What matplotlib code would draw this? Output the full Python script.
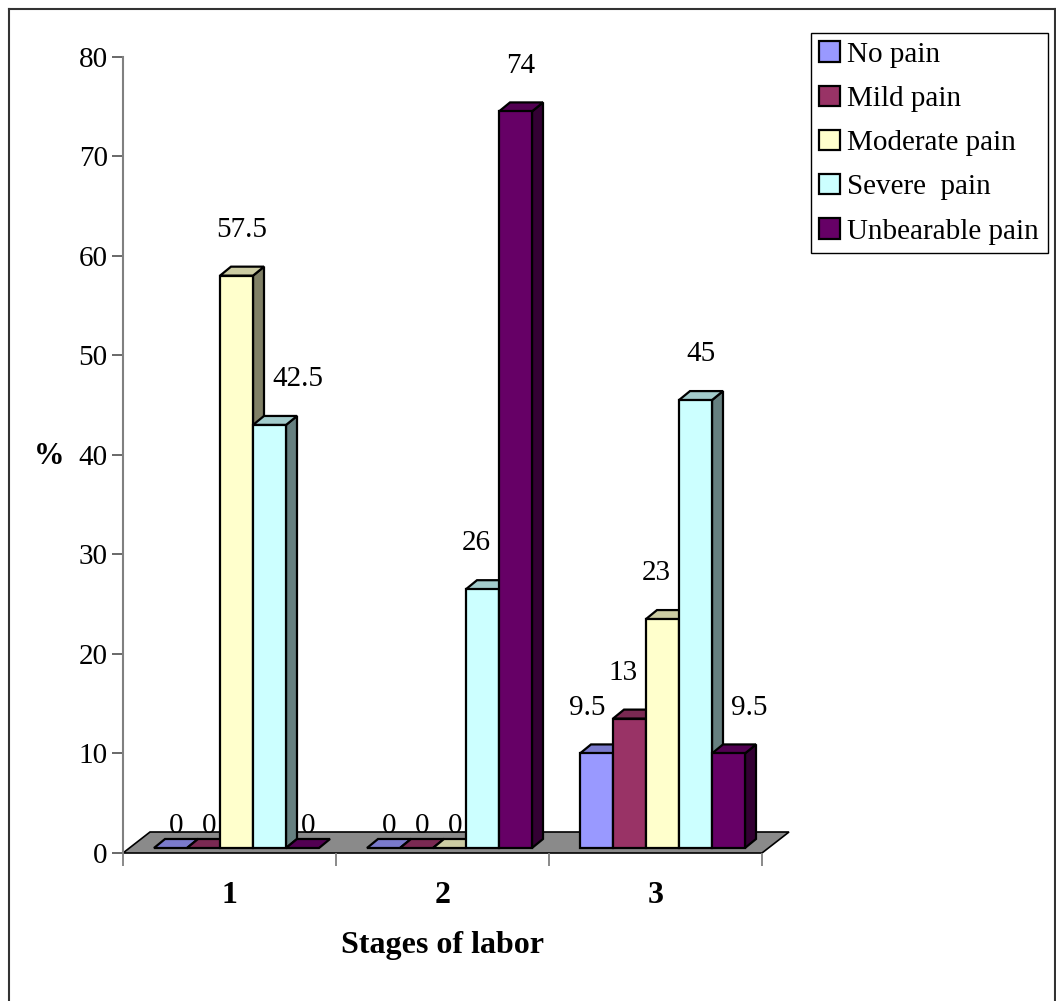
# -*- coding: utf-8 -*-

import matplotlib
matplotlib.use("Agg")
import matplotlib.pyplot as plt
from matplotlib.patches import Polygon, Rectangle, Patch
from matplotlib.lines import Line2D
from matplotlib.colors import to_rgb

plt.rcParams['font.family'] = ['Liberation Serif', 'DejaVu Serif']

stages = ['1', '2', '3']
series = ['No pain', 'Mild pain', 'Moderate pain', 'Severe  pain', 'Unbearable pain']
no_pain = [0, 0, 9.5]
mild_pain = [0, 0, 13]
moderate_pain = [57.5, 0, 23]
severe_pain = [42.5, 26, 45]
unbearable_pain = [0, 74, 9.5]
colors = ['#9999FF', '#993366', '#FFFFCC', '#CCFFFF', '#660066']

W, H = 1056, 1001
fig = plt.figure(figsize=(W / 100, H / 100), dpi=100)

# plot area in pixels: x axis 123..762, y axis 853 (0) .. 56.7 (80)
ax_l, ax_r, ax_b, ax_t = 123, 762, 853, 56.7
ax = fig.add_axes([ax_l / W, 1 - ax_b / H, (ax_r - ax_l) / W, (ax_b - ax_t) / H])
ax.set_xlim(-0.5, 2.5)
ax.set_ylim(0, 80)

# pixel -> data unit helpers for the fake 3d look
sx = 3.0 / (ax_r - ax_l)
sy = 80.0 / (ax_b - ax_t)
bar_w = 33 * sx
base_dx, base_dy = 7 * sx, 5 * sy      # bars sit a bit back on the floor
bar_dx, bar_dy = 11 * sx, 9 * sy       # bar depth
floor_dx, floor_dy = 27 * sx, 21 * sy  # floor depth


def shade(c, f):
    r, g, b = to_rgb(c)
    return (r * f, g * f, b * f)


# floor
floor = Polygon([(-0.5, 0), (2.5, 0), (2.5 + floor_dx, floor_dy), (-0.5 + floor_dx, floor_dy)],
                closed=True, facecolor='#8a8a8a', edgecolor='black', lw=1.2, clip_on=False, zorder=1)
ax.add_patch(floor)

values = [no_pain, mild_pain, moderate_pain, severe_pain, unbearable_pain]
n = len(values)
z = 2
bar_boxes = []
labels = []
for i in range(len(stages)):
    for j in range(n):
        v = values[j][i]
        c = colors[j]
        x0 = i - n * bar_w / 2 + j * bar_w + base_dx
        y0 = base_dy
        top = [(x0, y0 + v), (x0 + bar_w, y0 + v),
               (x0 + bar_w + bar_dx, y0 + v + bar_dy), (x0 + bar_dx, y0 + v + bar_dy)]
        if v > 0:
            side = [(x0 + bar_w, y0), (x0 + bar_w + bar_dx, y0 + bar_dy),
                    (x0 + bar_w + bar_dx, y0 + v + bar_dy), (x0 + bar_w, y0 + v)]
            ax.add_patch(Polygon(side, closed=True, facecolor=shade(c, 0.5), edgecolor='black',
                                 lw=1.6, joinstyle='miter', clip_on=False, zorder=z))
            ax.add_patch(Polygon(top, closed=True, facecolor=shade(c, 0.8), edgecolor='black',
                                 lw=1.6, joinstyle='miter', clip_on=False, zorder=z))
            ax.add_patch(Rectangle((x0, y0), bar_w, v, facecolor=c, edgecolor='black',
                                   lw=1.6, joinstyle='miter', clip_on=False, zorder=z))
            ly = y0 + v + 4.6
        else:
            ax.add_patch(Polygon(top, closed=True, facecolor=shade(c, 0.8), edgecolor='black',
                                 lw=1.6, joinstyle='miter', clip_on=False, zorder=z))
            ly = y0 + v + 2.2
        z += 1
        bar_boxes.append((x0, x0 + bar_w + bar_dx, y0 + v + bar_dy, v))
        t = ax.text(x0 + bar_w / 2 + bar_dx / 2, ly, '{:g}'.format(v), ha='center', va='center',
                    fontsize=21, zorder=50)
        labels.append(t)

# axes styling
for s in ['top', 'right', 'bottom']:
    ax.spines[s].set_visible(False)
ax.spines['left'].set_color('#808080')
ax.spines['left'].set_linewidth(1.5)
ax.set_yticks(range(0, 81, 10))
ax.tick_params(axis='y', direction='out', length=8, width=1.1, color='#404040',
               labelsize=21, pad=3)
ax.set_xticks([0, 1, 2], stages)
ax.tick_params(axis='x', which='major', length=0, pad=20, labelsize=23)
for t in ax.get_xticklabels():
    t.set_fontweight('bold')
ax.set_xticks([-0.5, 0.5, 1.5, 2.5], minor=True)
ax.tick_params(axis='x', which='minor', direction='out', length=9, width=1.3, color='#808080')

ax.text(0.5, -(946 - ax_b) / (ax_b - ax_t), 'Stages of labor', transform=ax.transAxes,
        ha='center', va='center', fontsize=23, fontweight='bold')
ax.text((49 - ax_l) / (ax_r - ax_l), (ax_b - 457) / (ax_b - ax_t), '%', transform=ax.transAxes,
        ha='center', va='center', fontsize=22, fontweight='bold')

# push value labels sideways off any neighbouring bar they run into
fig.canvas.draw()
renderer = fig.canvas.get_renderer()
gap = 8 * sx
for k, t in enumerate(labels):
    for _ in range(3):
        bb = t.get_window_extent(renderer).transformed(ax.transData.inverted())
        moved = False
        for m, (bl, br, btop, bv) in enumerate(bar_boxes):
            if m == k or bv == 0:
                continue
            if bb.x1 > bl and bb.x0 < br and bb.y0 < btop:
                cx, cy = t.get_position()
                if (bl + br) / 2 > cx:
                    t.set_position((cx - (bb.x1 - bl) - gap, cy))
                else:
                    t.set_position((cx + (br - bb.x0) + gap, cy))
                moved = True
                break
        if not moved:
            break

# legend
handles = [Patch(facecolor=c, edgecolor='black', lw=1.6) for c in colors]
leg = fig.legend(handles, series, loc='upper left', bbox_to_anchor=(810.7 / W, 1 - 32.7 / H),
                 borderaxespad=0, fancybox=False, framealpha=1, edgecolor='black',
                 fontsize=21, handlelength=0.7, handleheight=0.7, handletextpad=0.25,
                 borderpad=0.3, labelspacing=0.61)
leg.get_frame().set_linewidth(1.0)

# outer frame
for xs, ys in [([9, 9], [9, H + 5]), ([9, 1055], [9, 9]), ([1055, 1055], [9, H + 5])]:
    fig.add_artist(Line2D([x / W for x in xs], [1 - y / H for y in ys], color='#333333', lw=1.5))

fig.savefig('out.png', dpi=100)
